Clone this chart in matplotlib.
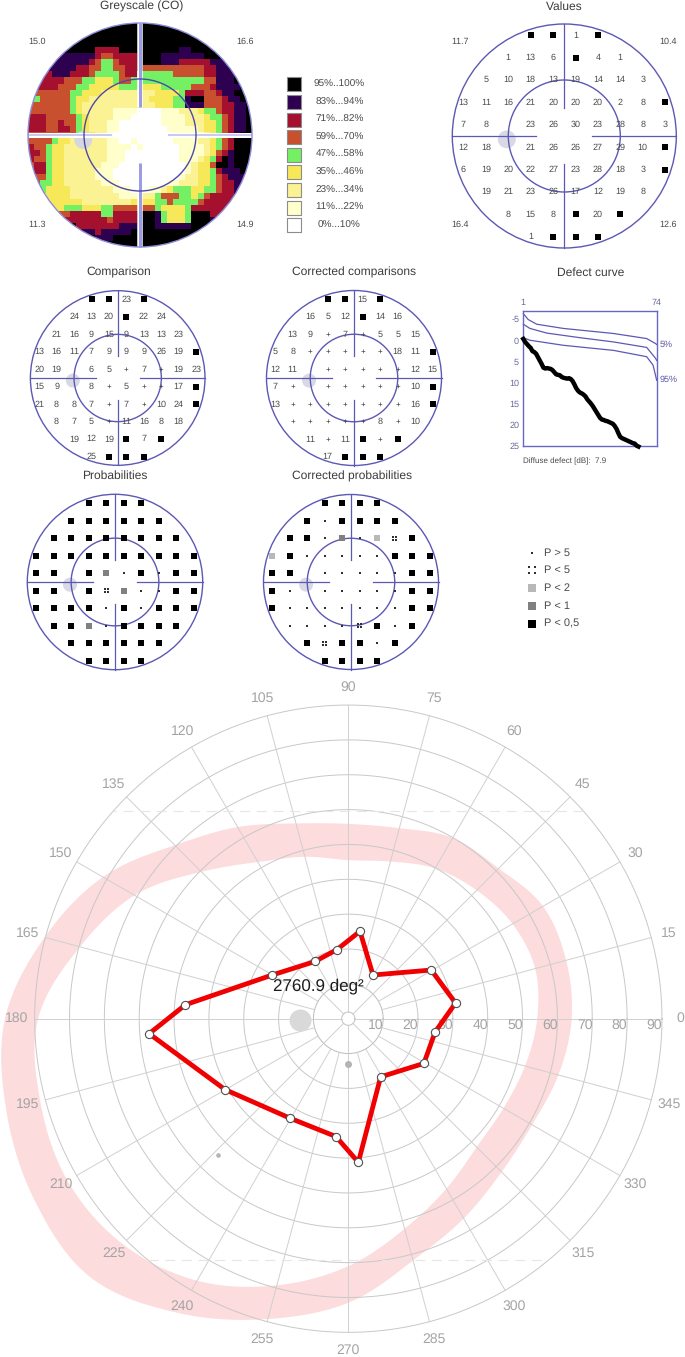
import numpy as np
import matplotlib
matplotlib.use("Agg")
import matplotlib.pyplot as plt
from matplotlib.colors import ListedColormap
from matplotlib.patches import Circle

plt.rcParams['font.family'] = ['Liberation Sans', 'DejaVu Sans']
plt.rcParams['text.hinting'] = 'none'
plt.rcParams['text.hinting_factor'] = 1

W, H = 685, 1357

# ---------- data ----------
GREY_COLORS = ['#ffffff', '#ffffcc', '#fbf294', '#f6e858', '#74f064',
               '#c8502f', '#a5102e', '#2e0050', '#000000']
GREY_LABELS = ['95%..100%', '83%...94%', '71%...82%', '59%...70%', '47%...58%',
               '35%...46%', '23%...34%', '11%...22%', '0%...10%']
GREY_RUNS = [
 "8:36", "8:36", "8:36", "8:36",
 "8:10 6:14 8:24 7:26 8:36",
 "8:4 7:10 6:11 5:13 6:17 8:21 7:28 8:36",
 "8:3 7:9 6:10 5:11 4:13 5:14 6:17 8:21 7:24 6:29 7:32 8:36",
 "8:2 7:7 6:9 5:11 4:13 5:15 6:17 8:18 5:28 6:30 7:33 8:36",
 "6:3 7:6 6:9 5:10 4:14 5:15 6:17 4:23 5:28 6:30 7:33 8:36",
 "6:5 5:8 4:10 3:13 4:14 5:16 4:28 5:30 7:33 8:36",
 "6:4 5:7 4:9 3:14 4:17 3:21 4:26 5:29 6:30 7:34 8:36",
 "5:6 4:8 3:11 2:20 3:24 4:25 6:28 5:30 6:31 7:33 8:36",
 "4:1 5:6 4:7 3:9 2:19 3:23 4:25 7:26 8:28 5:31 6:32 7:34 8:36",
 "5:6 4:7 3:8 2:20 3:23 4:25 7:28 5:31 6:33 7:35 8:36",
 "5:6 4:7 3:8 2:13 1:17 0:21 1:24 2:27 3:28 4:30 5:31 6:33 7:35 8:36",
 "6:2 5:7 4:8 3:9 2:13 1:16 0:21 1:25 2:28 3:29 4:31 5:32 6:33 7:35 8:36",
 "6:2 5:4 6:5 5:7 4:8 3:9 2:12 1:14 0:21 1:25 2:28 3:30 4:31 5:32 6:33 7:35 8:36",
 "6:2 5:4 6:6 5:7 4:8 3:9 2:12 1:14 0:22 1:27 2:28 3:30 4:31 5:32 6:33 7:35 8:36",
 "5:7 4:8 3:10 2:12 1:13 0:23 1:28 2:29 3:30 4:31 5:32 6:33 7:34 8:36",
 "5:3 4:4 3:6 2:12 1:14 0:16 1:17 0:23 1:27 2:29 3:30 4:31 5:32 6:33 8:36",
 "6:0 5:2 4:3 3:5 2:12 1:16 0:17 1:18 0:24 1:28 2:29 3:30 4:31 5:32 6:33 8:36",
 "6:1 5:2 4:3 3:5 2:12 1:15 0:24 1:28 2:29 3:30 4:30 5:31 6:32 7:33 8:36",
 "6:0 5:2 4:3 3:5 2:12 1:15 0:24 1:27 2:28 3:29 4:30 5:30 6:31 8:32 7:33 8:36",
 "5:0 6:2 4:3 3:5 2:11 1:14 0:25 1:26 2:27 3:29 4:29 5:30 8:32 7:33 8:36",
 "5:0 6:2 4:3 3:5 2:10 1:13 0:25 1:26 2:27 3:29 4:30 6:31 7:34 8:36",
 "5:2 4:3 3:5 2:10 1:13 0:24 1:25 2:27 3:29 4:30 5:31 6:32 7:36",
 "5:1 4:3 3:5 2:11 1:14 0:22 1:24 2:27 3:29 4:30 5:31 6:33 7:36",
 "4:2 3:6 2:13 1:16 0:19 1:21 2:22 3:23 4:26 3:28 4:30 5:31 6:33 7:36",
 "3:6 2:14 1:17 2:20 4:21 5:24 4:26 3:27 4:28 5:29 6:33 7:36",
 "3:8 2:16 3:20 4:22 5:23 4:27 5:28 6:33 7:36",
 "3:5 4:8 3:11 4:13 5:17 5:20 4:21 3:25 4:26 6:32 7:36",
 "5:6 6:11 4:13 6:17 8:20 7:21 4:22 3:25 4:26 8:29 6:31 7:36",
 "6:12 5:13 6:17 8:20 7:21 4:22 3:25 4:26 8:29 7:32 8:36",
 "8:7 6:14 7:17 8:20 7:26 8:36",
 "7:10 6:11 7:16 8:36",
 "8:10 7:13 8:36",
 "8:36",
]
GREY_CORNERS = ['15.0', '16.6', '11.3', '14.9']
VALUE_CORNERS = ['11.7', '10.4', '16.4', '12.6']

VALUES = [
 "_ _ _ B B 1 B _ _ _",
 "_ _ 1 13 6 B 4 1 _ _",
 "_ 5 10 18 13 19 14 14 3 _",
 "13 11 16 21 20 20 20 2 8 B",
 "7 8 _ 23 26 30 23 28 8 3",
 "12 18 _ 21 26 26 27 29 10 B",
 "6 19 20 22 27 23 28 18 3 B",
 "_ 19 21 23 26 17 12 19 8 _",
 "_ _ 8 15 8 B 20 B _ _",
 "_ _ _ 1 B B B _ _ _",
]
COMPARISON = [
 "_ _ _ B B 23 B _ _ _",
 "_ _ 24 13 20 B 22 24 _ _",
 "_ 21 16 9 15 9 13 13 23 _",
 "13 16 11 7 9 9 9 26 19 B",
 "20 19 _ 6 5 + 7 + 19 23",
 "15 9 _ 8 + 5 + + 17 B",
 "21 8 8 7 + 7 + 10 24 B",
 "_ 8 7 5 + 11 16 8 18 _",
 "_ _ 19 12 19 B 7 B _ _",
 "_ _ _ 25 B B B _ _ _",
]
CORRECTED = [
 "_ _ _ B B 15 B _ _ _",
 "_ _ 16 5 12 B 14 16 _ _",
 "_ 13 9 + 7 + 5 5 15 _",
 "5 8 + + + + + 18 11 B",
 "12 11 _ + + + + + 12 15",
 "7 + _ + + + + + 10 B",
 "13 + + + + + + + 16 B",
 "_ + + + + + 8 + 10 _",
 "_ _ 11 + 11 B + B _ _",
 "_ _ _ 17 B B B _ _ _",
]
PROB = [
 "_ _ _ B B B B _ _ _",
 "_ _ B B B B B B _ _",
 "_ B B B B B B B B _",
 "B B B B B B B B B B",
 "B B _ B D . B . B B",
 "B B _ B F D . . B B",
 "B B B B . B . B B B",
 "_ B B D . B B B B _",
 "_ _ B B B B B B _ _",
 "_ _ _ B B B B _ _ _",
]
PROB_CORR = [
 "_ _ _ B B B B _ _ _",
 "_ _ B . B B B B _ _",
 "_ B B . D . L F B _",
 "L B . . . . . B B B",
 "B B _ . . . . . B B",
 "B . _ . . . . . B B",
 "B . . . . . . . B B",
 "_ . . . . F B . B _",
 "_ _ B F B B . B _ _",
 "_ _ _ B B B B _ _ _",
]
P_LABELS = ['P > 5', 'P < 5', 'P < 2', 'P < 1', 'P < 0,5']
P_CODES = ['.', 'F', 'L', 'D', 'B']

DEFECT = [-0.3, 0.4, 0.9, 1.4, 1.8, 2.6, 2.8, 3.2, 4.0, 4.8, 5.6, 6.5, 6.7, 6.6, 6.7, 6.8,
          7.1, 7.6, 8.1, 8.2, 8.3, 8.7, 8.9, 9.0, 9.1, 9.0, 9.2, 9.7, 10.5, 11.4, 12.0, 12.4,
          12.6, 12.9, 13.3, 14.0, 14.5, 15.0, 15.6, 16.3, 17.0, 17.7, 18.4, 18.8, 18.9, 19.1,
          19.2, 19.4, 19.6, 19.8, 20.3, 21.0, 22.0, 22.9, 23.2, 23.4, 23.6, 23.8, 24.0, 24.2,
          24.4, 24.5, 25.0, 25.2]
NORM_TOP_X = [1, 3.7, 8.3, 22.9, 50.3, 68.5, 73.4, 74]
NORM_TOP_Y = [-6.3, -4.9, -3.8, -2.8, -1.6, -0.4, 0.8, 1.0]
NORM_MID_X = [1, 4.6, 13.8, 32, 50.3, 68.5, 73.4, 74]
NORM_MID_Y = [-3.8, -2.8, -1.7, -0.6, 0.4, 1.7, 4.3, 4.8]
NORM_LOW_X = [1, 4.6, 22.9, 50.3, 68.5, 72, 74]
NORM_LOW_Y = [-0.6, 0.0, 1.2, 2.4, 3.9, 5.9, 9.5]
DEFECT_YTICKS = [-5, 0, 5, 10, 15, 20, 25]

POLY_THETA = [82.4, 60.5, 30.4, 8.3, -8.7, -30.6, -60.9, -86, -96, -120.6, -150.1, -175.7,
              175.1, 150.2, 120.2, 99.3]
POLY_R = [25.3, 14.4, 27.6, 31.1, 25.2, 25.2, 19.1, 41.3, 34.0, 33.1, 40.8, 57.3,
          46.9, 25.2, 19.0, 20.1]
BAND_OUT = [64.1, 64.7, 64.5, 61.0, 59.9, 56.6, 55.9, 58.0, 63.5, 70.4, 81.3, 90.2,
            98.5, 101.6, 104.0, 104.8, 97.5, 89.2, 81.5, 71.8, 66.2, 62.2, 60.9, 62.4]
BAND_IN = [54.2, 55.5, 54.4, 52.1, 49.8, 46.7, 45.5, 48.1, 51.9, 59.6, 70.8, 79.7,
           89.0, 91.5, 93.0, 91.5, 86.8, 79.2, 71.0, 62.4, 56.3, 52.1, 51.4, 52.5]
RINGS = [10, 20, 30, 40, 50, 60, 70, 80, 90]
RAYS = list(range(0, 360, 15))
AREA_LABEL = '2760.9 deg²'

# ---------- style ----------
BLUE = '#5c58b4'
TXT = '#4a4a4a'
GRAYTXT = '#a4a4a4'
GRID = '#d0d0d0'

fig = plt.figure(figsize=(W / 100, H / 100), dpi=100, facecolor='white')


def px_axes(x, y, w, h, **kw):
    return fig.add_axes([x / W, 1 - (y + h) / H, w / W, h / H], **kw)


def panel(cx, cy, R):
    s = R * 31 / 30
    ax = px_axes(cx - s, cy - s, 2 * s, 2 * s)
    ax.set_xlim(-31, 31)
    ax.set_ylim(-31, 31)
    ax.axis('off')
    return ax


def pw(px):
    return px * 0.72


def draw_frame(ax, dot=(-15.4, -0.9)):
    ax.add_patch(Circle(dot, 2.4, fc='#d9d9e6', ec='none', zorder=1))
    ax.add_patch(Circle((0, 0), 30, fc='none', ec=BLUE, lw=1.0, zorder=2))
    ax.add_patch(Circle((0, 0), 15, fc='none', ec=BLUE, lw=1.0, zorder=2))
    for a, b in ((0, 1), (0, -1), (1, 0), (-1, 0)):
        ax.plot([a * 7.5, a * 30], [b * 7.5, b * 30], color=BLUE, lw=0.9, zorder=2)


SQUARE = {'B': '#000000', 'D': '#808080', 'L': '#b8b8b8'}


def draw_cells(ax, rows, unit, fs=6.6):
    xs = np.arange(-27, 28, 6)
    ys = np.arange(27, -28, -6)
    for row, y in zip(rows, ys):
        for tok, x in zip(row.split(), xs):
            mark(ax, tok, x, y, unit, fs)


def mark(ax, tok, x, y, unit, fs=6.6, fourgap=1.4, side=5.8):
    if tok == '_':
        return
    if tok in SQUARE:
        ax.scatter([x], [y], marker='s', s=pw(side) ** 2, c=SQUARE[tok], lw=0, zorder=4, clip_on=False)
    elif tok == '.':
        ax.scatter([x], [y], marker='s', s=pw(1.3) ** 2, c='#303030', lw=0, zorder=4, clip_on=False)
    elif tok == 'F':
        d = fourgap / unit
        ax.scatter([x - d, x + d, x - d, x + d], [y - d, y - d, y + d, y + d], marker='s',
                   s=pw(1.5) ** 2, c='#303030', lw=0, zorder=4, clip_on=False)
    elif tok == '+':
        ax.text(x, y, '+', fontsize=fs - 1.0, ha='center', va='center', color='#303030', zorder=4)
    else:
        ax.text(x, y, tok, fontsize=fs, ha='center', va='center', color=TXT, zorder=4)


def title(x, y, s):
    ov.text(x, y, s, fontsize=8.8, ha='center', va='center', color='#3c3c3c')


# ---------- overlay in pixels for headings and legends ----------
ov = px_axes(0, 0, W, H)
ov.set_xlim(0, W)
ov.set_ylim(H, 0)
ov.axis('off')
ov.set_zorder(5)
ov.patch.set_alpha(0)

title(141.5, 6.7, 'Greyscale (CO)')
title(564, 6.7, 'Values')
title(118.7, 272.7, 'Comparison')
title(354, 272.7, 'Corrected comparisons')
title(590.7, 272.7, 'Defect curve')
title(115, 476, 'Probabilities')
title(351.7, 476, 'Corrected probabilities')

for (x, y), s in zip([(37, 42), (245, 42), (37, 225), (245, 225)], GREY_CORNERS):
    ov.text(x, y, s, fontsize=6.2, ha='center', va='center', color=TXT)
for (x, y), s in zip([(460, 42), (668, 42), (460, 225), (668, 225)], VALUE_CORNERS):
    ov.text(x, y, s, fontsize=6.2, ha='center', va='center', color=TXT)

# greyscale legend
for i, lab in enumerate(GREY_LABELS):
    y = 84.3 + i * 17.6
    ov.scatter([294.5], [y], marker='s', s=pw(14.5) ** 2, c=GREY_COLORS[8 - i],
               edgecolors='#8c8c8c', lw=0.8)
    ov.text(339.5, y, lab, fontsize=7.5, ha='center', va='center', color=TXT)

# probability legend
for i, (lab, code) in enumerate(zip(P_LABELS, P_CODES)):
    y = 552.7 + i * 17.7
    mark(ov, code, 532.5, y, 1.0, fourgap=3.0, side=8.2)
    ov.text(544.3, y, lab, fontsize=7.7, ha='left', va='center', color=TXT)

# ---------- greyscale map ----------
grid = np.zeros((37, 37), dtype=int)
for r, runs in enumerate(GREY_RUNS):
    start = 0
    for part in runs.split():
        lev, end = part.split(':')
        grid[r, start:int(end) + 1] = int(lev)
        start = int(end) + 1

ax = panel(140, 135, 112)
clip = Circle((0, 0), 30, transform=ax.transData)
im = ax.imshow(grid, cmap=ListedColormap(GREY_COLORS), vmin=0, vmax=8,
               extent=(-30, 30, -30, 30), interpolation='nearest', origin='upper', zorder=1)
im.set_clip_path(clip)
ax.set_xlim(-31, 31)
ax.set_ylim(-31, 31)
ax.set_aspect('equal')
ax.add_patch(Circle((-15.2, -1.3), 2.4, fc='#d6d6de', ec='none', zorder=2))
for b in (1, -1):
    ax.plot([0, 0], [b * 7.4, b * 30], color='white', lw=pw(5.5), zorder=3, solid_capstyle='butt')
    ax.plot([0, 0], [b * 7.4, b * 30], color='#9c9ce4', lw=pw(3), zorder=4, solid_capstyle='butt')
for a in (-1, 1):
    ax.plot([a * 7.4, a * 30], [0, 0], color='white', lw=pw(5), zorder=3, solid_capstyle='butt')
    ax.plot([a * 7.4, a * 30], [0, 0], color='#bcbcee', lw=pw(1.6), zorder=4, solid_capstyle='butt')
ax.add_patch(Circle((0, 0), 30, fc='none', ec='#8c8cd8', lw=1.0, zorder=5))
ax.add_patch(Circle((0, 0), 15, fc='none', ec='#4c48a8', lw=1.0, zorder=5))

# ---------- numeric and probability panels ----------
for (cx, cy, R, rows) in [(564.3, 136, 112, VALUES),
                          (117.7, 378, 87.3, COMPARISON),
                          (354, 378, 87.5, CORRECTED),
                          (115, 582, 87.7, PROB),
                          (351, 582, 87.5, PROB_CORR)]:
    ax = panel(cx, cy, R)
    draw_frame(ax)
    draw_cells(ax, rows, R / 30)

# ---------- defect curve ----------
ax = px_axes(523.3, 310.7, 133.4, 135.3)
ax.set_xlim(1, 74)
ax.set_ylim(25.07, -7)
ranks = np.arange(1, len(DEFECT) + 1)
for xs, ys in [(NORM_TOP_X, NORM_TOP_Y), (NORM_MID_X, NORM_MID_Y), (NORM_LOW_X, NORM_LOW_Y)]:
    ax.plot(xs, ys, color=BLUE, lw=0.9, clip_on=False, zorder=2)
ax.plot(ranks, DEFECT, color='black', lw=3.2, clip_on=False, zorder=3, solid_joinstyle='round')
for sp in ax.spines.values():
    sp.set_color('#6a66c8')
    sp.set_linewidth(1.0)
ax.xaxis.tick_top()
ax.set_xticks([1, 74])
ax.set_yticks(DEFECT_YTICKS)
ax.set_yticklabels([str(v) for v in DEFECT_YTICKS])
ax.tick_params(length=0, labelsize=6.4, labelcolor='#6a6a9a', pad=3)
ax.text(75.5, 1.0, '5%', fontsize=6.2, color='#5c58a8', va='center')
ax.text(75.5, 9.3, '95%', fontsize=6.2, color='#5c58a8', va='center')
ax.text(1, 28.6, 'Diffuse defect [dB]:  7.9', fontsize=6.0, color=TXT, va='center', clip_on=False)

# ---------- polar field ----------
RMAX = 107
SCALE = 3.485
S = RMAX * SCALE
ax = fig.add_axes([(348.3 - S) / W, 1 - (1018.7 + S) / H, 2 * S / W, 2 * S / H], projection='polar')
ax.set_rlim(0, RMAX)
ax.axis('off')

th = np.deg2rad(np.arange(0, 360.5, 0.5))
SUB = 30  # drawing steps between two read values of the band


def smooth(vals):
    v = np.asarray(vals, float)
    m = (np.roll(v, -1) - np.roll(v, 1)) / 2
    t = (np.arange(SUB) / SUB)[None, :]
    p0, p1, m0, m1 = v[:, None], np.roll(v, -1)[:, None], m[:, None], np.roll(m, -1)[:, None]
    fine = ((2 * t**3 - 3 * t**2 + 1) * p0 + (t**3 - 2 * t**2 + t) * m0
            + (-2 * t**3 + 3 * t**2) * p1 + (t**3 - t**2) * m1).ravel()
    return np.r_[fine, fine[0]]


ro, ri = smooth(BAND_OUT), smooth(BAND_IN)
bt = np.linspace(0, 2 * np.pi, ro.size)
ax.fill(np.r_[bt, bt[::-1]], np.r_[ro, ri[::-1]], color='#fcdcdc', lw=0, zorder=1)

for r in RINGS:
    ax.plot(th, np.full_like(th, r), color='#c8c8c8' if r > 10 else '#bcbcbc', lw=0.7, zorder=2)
for t in RAYS:
    r0 = 1.9 if t % 45 == 0 else 10
    ax.plot(np.deg2rad([t, t]), [r0, 90], color=GRID, lw=0.7, zorder=2)
    ax.text(np.deg2rad(t), 95.2, str(t), fontsize=10, color=GRAYTXT, ha='center', va='center', clip_on=False)
for r in RINGS:
    ax.annotate(str(r), xy=(0, r), xytext=(-5.4, -4.8), textcoords='offset points', fontsize=10,
                color=GRAYTXT, ha='center', va='center', annotation_clip=False)
ax.plot(th, np.full_like(th, 1.9), color='#c8c8c8', lw=0.8, zorder=2)

for t0, t1 in [(41.5, 138.5), (230.4, 309.6)]:
    ax.plot(np.deg2rad([t0, t1]), [90, 90], color='#e6e6e6', lw=0.8, dashes=(9, 6), zorder=2)

ax.plot(np.deg2rad([182]), [13.9], 'o', ms=pw(22), color='#d9d9d9', mew=0, zorder=3)
ax.plot(np.deg2rad([270]), [13.0], 'o', ms=pw(7), color='#b4b4b4', mew=0, zorder=3)
ax.plot(np.deg2rad([226.3]), [54.1], 'o', ms=pw(4.6), color='#b4b4b4', mew=0, zorder=3)

pt = np.deg2rad(POLY_THETA + POLY_THETA[:1])
pr = POLY_R + POLY_R[:1]
ax.plot(pt, pr, color='#f00000', lw=pw(4.8), zorder=4, solid_joinstyle='miter')
ax.plot(pt[:-1], pr[:-1], 'o', ms=pw(8.2), mfc='white', mec='#505050', mew=0.8, zorder=5)

ov.text(273.3, 986, AREA_LABEL, fontsize=12.6, ha='left', va='center', color='#1c1c1c', zorder=10)

fig.savefig('out.png', dpi=100)
